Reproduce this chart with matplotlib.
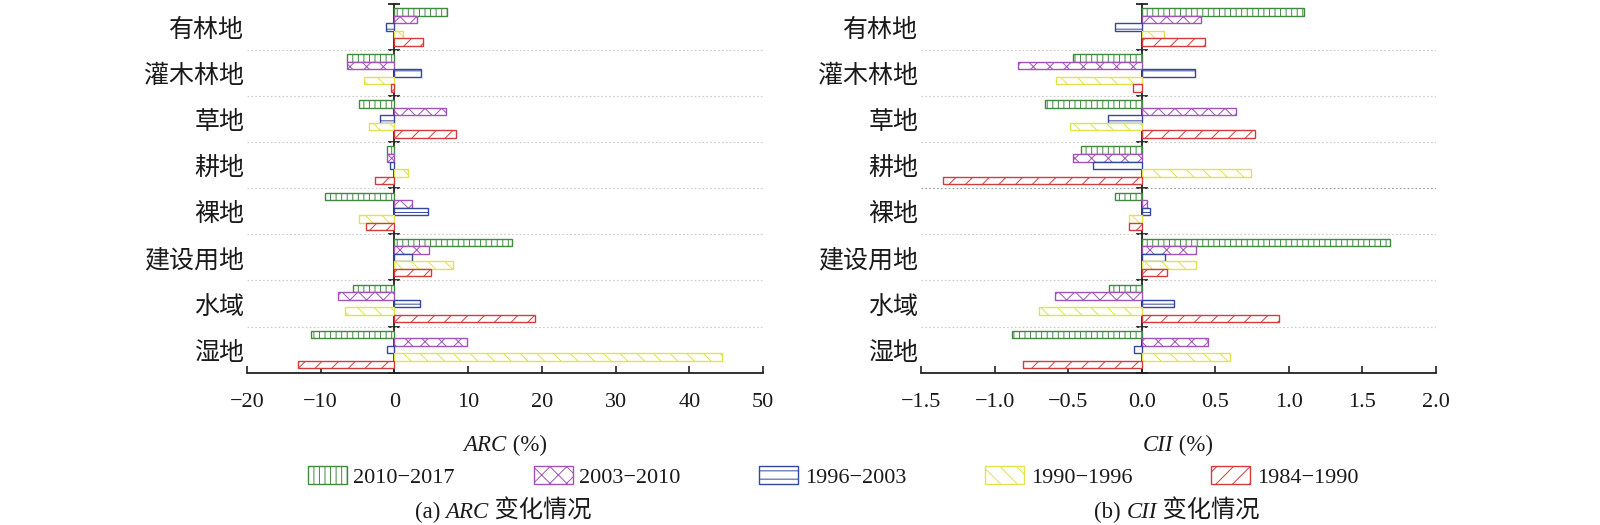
import matplotlib
matplotlib.use('Agg')
import matplotlib.pyplot as plt
from matplotlib.offsetbox import TextArea, HPacker, AnchoredOffsetbox
import numpy as np

categories = ['有林地', '灌木林地', '草地', '耕地', '裸地', '建设用地', '水域', '湿地']
periods = ['2010−2017', '2003−2010', '1996−2003', '1990−1996', '1984−1990']

arc_2010_2017 = [7.1, -6.5, -4.8, -1.0, -9.4, 15.9, -5.6, -11.3]
arc_2003_2010 = [3.0, -6.4, 7.0, -1.0, 2.4, 4.7, -7.6, 9.8]
arc_1996_2003 = [-1.2, 3.6, -2.0, -0.6, 4.6, 2.4, 3.5, -1.0]
arc_1990_1996 = [1.1, -4.1, -3.5, 1.9, -4.8, 8.0, -6.7, 44.4]
arc_1984_1990 = [3.9, -0.4, 8.3, -2.7, -3.8, 4.9, 19.1, -13.1]

cii_2010_2017 = [1.10, -0.47, -0.66, -0.41, -0.18, 1.69, -0.22, -0.88]
cii_2003_2010 = [0.40, -0.84, 0.64, -0.47, 0.035, 0.37, -0.59, 0.45]
cii_1996_2003 = [-0.18, 0.36, -0.23, -0.33, 0.054, 0.16, 0.22, -0.054]
cii_1990_1996 = [0.15, -0.58, -0.49, 0.74, -0.084, 0.37, -0.70, 0.60]
cii_1984_1990 = [0.43, -0.06, 0.77, -1.35, -0.084, 0.175, 0.935, -0.81]

arc_xticks = [-20, -10, 0, 10, 20, 30, 40, 50]
cii_xticks = [-1.5, -1.0, -0.5, 0.0, 0.5, 1.0, 1.5, 2.0]

colors = ['#3f8a3f', '#a052b8', '#34479c', '#e2e24a', '#d43c3c']
hatches = ['|||', 'xx', '--', '\\\\', '//']

plt.rcParams['hatch.linewidth'] = 0.7
SERIF = 'Liberation Serif'
CJK = 'Noto Sans CJK SC'
TXT = '#1a1a1a'

fig = plt.figure(figsize=(16, 5.25), dpi=100)
ax1 = fig.add_axes([247/1600, 1-372.6/525, (763-247)/1600, (372.6-4)/525])
ax2 = fig.add_axes([921/1600, 1-372.6/525, (1436-921)/1600, (372.6-4)/525])

arc_series = [arc_2010_2017, arc_2003_2010, arc_1996_2003, arc_1990_1996, arc_1984_1990]
cii_series = [cii_2010_2017, cii_2003_2010, cii_1996_2003, cii_1990_1996, cii_1984_1990]

n = len(categories)
ycent = np.arange(n) + 0.5
h = 0.163


def draw(ax, series, xlim, xticks, fmt):
    handles = []
    for k, vals in enumerate(series):
        b = ax.barh(ycent + (k - 2) * h, vals, height=h, left=0,
                    facecolor='white', edgecolor=colors[k], hatch=hatches[k],
                    linewidth=1.0, label=periods[k], zorder=3)
        handles.append(b)
    ax.set_xlim(*xlim)
    ax.set_ylim(n, 0)
    ax.set_yticks(ycent)
    ax.set_yticklabels(categories, fontfamily=CJK, fontsize=18, color=TXT)
    ax.tick_params(axis='y', length=0, pad=2)
    ax.set_yticks(np.arange(1, n), minor=True)
    ax.tick_params(axis='y', which='minor', length=0)
    ax.grid(axis='y', which='minor', color='#cccccc', linestyle=(0, (1.5, 2.0)), linewidth=0.8, zorder=0)
    ax.grid(axis='y', which='major', visible=False)
    ax.set_xticks(xticks)
    ax.set_xticklabels([fmt(v) for v in xticks], fontfamily=SERIF, fontsize=16, color=TXT)
    ax.tick_params(axis='x', direction='in', length=5, width=1.2, pad=15, color='#222')
    for s in ['top', 'right', 'left']:
        ax.spines[s].set_visible(False)
    ax.spines['bottom'].set_linewidth(1.3)
    ax.spines['bottom'].set_color('#222')
    loc = (0 - xlim[0]) / (xlim[1] - xlim[0])
    sec = ax.secondary_yaxis(loc)
    sec.set_yticks(np.arange(0, n + 1))
    sec.set_yticklabels([])
    sec.tick_params(direction='inout', length=8, width=1.3, color='#222')
    sec.spines['left'].set_linewidth(1.3)
    sec.spines['left'].set_color('#222')
    return handles


handles = draw(ax1, arc_series, (-20, 50), arc_xticks, lambda v: str(v).replace('-', '−'))
draw(ax2, cii_series, (-1.5, 2.0), cii_xticks, lambda v: f'{v:.1f}'.replace('-', '−'))

# darker separator between 耕地 and 裸地 in panel (b)
for i, gl in enumerate(ax2.yaxis.get_minorticklines()):
    pass
for gl in ax2.get_ygridlines():
    pass
minor_grid = [t.gridline for t in ax2.yaxis.get_minor_ticks()]
if len(minor_grid) >= 4:
    minor_grid[3].set_color('#999999')


def rich(parts, x, y):
    boxes = []
    for txt, fam, style, size in parts:
        boxes.append(TextArea(txt, textprops=dict(fontfamily=fam, fontstyle=style, fontsize=size, color=TXT)))
    pack = HPacker(children=boxes, align='baseline', pad=0, sep=0)
    ab = AnchoredOffsetbox(loc='center', child=pack, frameon=False, pad=0, borderpad=0,
                           bbox_to_anchor=(x, y), bbox_transform=fig.transFigure)
    fig.add_artist(ab)


rich([('ARC', SERIF, 'italic', 16.5), (' (%)', SERIF, 'normal', 16.5)], 505/1600, 1-445/525)
rich([('CII', SERIF, 'italic', 16.5), (' (%)', SERIF, 'normal', 16.5)], 1178/1600, 1-445/525)
rich([('(a) ', SERIF, 'normal', 16.5), ('ARC', SERIF, 'italic', 16.5), (' 变化情况', CJK, 'normal', 17.5)], 503/1600, 1-511/525)
rich([('(b) ', SERIF, 'normal', 16.5), ('CII', SERIF, 'italic', 16.5), (' 变化情况', CJK, 'normal', 17.5)], 1177/1600, 1-511/525)

fig.legend(handles, periods, ncol=5, loc='center', bbox_to_anchor=(833/1600, 1-477/525),
           frameon=False, handlelength=1.75, handleheight=0.85, handletextpad=0.3,
           columnspacing=3.55, prop=dict(family=SERIF, size=16), labelcolor=TXT)

fig.savefig('out.png', dpi=100)
